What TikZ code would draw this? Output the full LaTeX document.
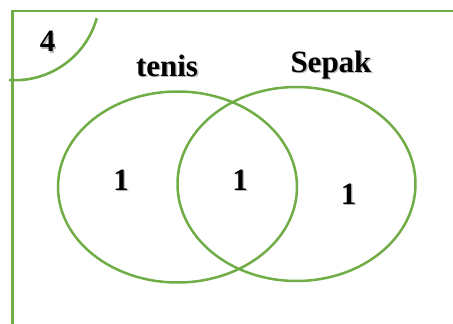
\documentclass[tikz,border=0pt]{standalone}
\usepackage{fontspec}
\setmainfont{Liberation Serif}
\usetikzlibrary{shapes.geometric}
\definecolor{vgreen}{RGB}{112,173,71}
\newcommand\shtxt[1]{\makebox[0pt][l]{\hspace{1.4pt}\raisebox{-1.4pt}{\textcolor{black!28}{#1}}}#1}
\tikzset{
  setline/.style={draw=vgreen, line width=2.5pt},
  setell/.style={setline, ellipse, inner sep=0pt, outer sep=0pt},
  lbl/.style={anchor=base, inner sep=0pt, font=\bfseries\fontsize{31}{34}\selectfont}
}
\begin{document}
\begin{tikzpicture}[x=1pt, y=-1pt]
\useasboundingbox (0,0) rectangle (453,324);
% frame (top and left edges)
\draw[vgreen, line width=2.2pt] (453,11) -- (12.5,11) -- (12.5,324);
% corner arc
\draw[setline, line width=2.6pt] (9,80) arc[start angle=-94, end angle=-15.7, radius=85pt];
% sets
\node[setell, minimum width=239pt, minimum height=191pt] (tenisset) at (177.5,187) {};
\node[setell, minimum width=238pt, minimum height=194pt] (sepakset) at (296.5,184) {};
% labels
\node[lbl] (outside) at (47.5,52) {\shtxt{4}};
\node[lbl] (tenislbl) at (167,76.5) {\shtxt{tenis}};
\node[lbl] (sepaklbl) at (331,72.5) {\shtxt{Sepak}};
\node[lbl] (onlytenis) at (121,190) {\shtxt{1}};
\node[lbl] (both) at (240,190) {\shtxt{1}};
\node[lbl] (onlysepak) at (348.5,204) {\shtxt{1}};
\end{tikzpicture}
\end{document}
